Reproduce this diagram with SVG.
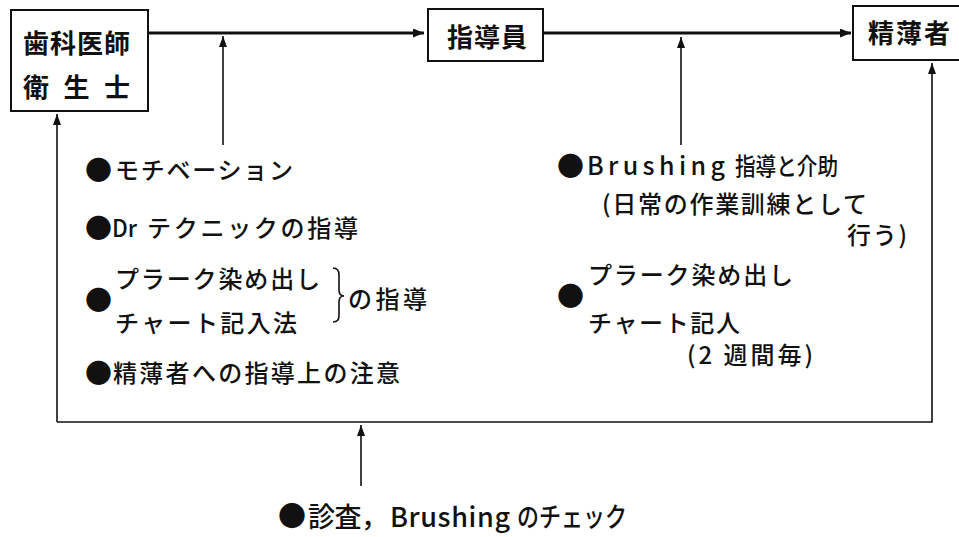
<svg xmlns="http://www.w3.org/2000/svg" width="959" height="537" viewBox="0 0 959 537">
<style>
  .box { fill: #fff; stroke: #111; stroke-width: 2; }
  .bt { font-family: "Noto Sans CJK JP", "Noto Sans", sans-serif; font-size: 26px; font-weight: bold; fill: #111; dominant-baseline: central; }
  .it { font-family: "Noto Sans CJK JP", "Noto Sans", sans-serif; font-size: 24px; font-weight: 500; fill: #111; dominant-baseline: central; }
  .dot { font-family: "Noto Sans CJK JP", "Noto Sans", sans-serif; font-size: 27px; fill: #111; dominant-baseline: central; }
  .big { font-family: "Noto Sans CJK JP", "Noto Sans", sans-serif; font-size: 27px; font-weight: 500; fill: #111; dominant-baseline: central; }
  .thick { fill: none; stroke: #111; stroke-width: 3.2; }
  .thin { fill: none; stroke: #111; stroke-width: 1.6; }
</style>
<defs>
  <marker id="ah" markerUnits="userSpaceOnUse" markerWidth="12" markerHeight="10" refX="11" refY="4.5" orient="auto">
    <path d="M0,0 L11,4.5 L0,9 z" fill="#111"/>
  </marker>
  <marker id="ahs" markerUnits="userSpaceOnUse" markerWidth="12" markerHeight="10" refX="11" refY="4" orient="auto">
    <path d="M0,0 L11,4 L0,8 z" fill="#111"/>
  </marker>
</defs>
<rect width="959" height="537" fill="#fff"/>

<g id="connectors">
  <path class="thick" d="M148,33 L424,33" marker-end="url(#ah)"/>
  <path class="thick" d="M544,33 L851,33" marker-end="url(#ah)"/>
  <path class="thin" d="M223,145 L223,36" marker-end="url(#ahs)"/>
  <path class="thin" d="M681,145 L681,37" marker-end="url(#ahs)"/>
  <path class="thin" d="M57,422 L57,114" marker-end="url(#ahs)"/>
  <path class="thin" d="M57,422 L932,422 L932,63" marker-end="url(#ahs)"/>
  <path class="thin" d="M361,486 L361,425" marker-end="url(#ahs)"/>
</g>

<g id="node-dentist">
  <rect class="box" x="11" y="10" width="137" height="101"/>
  <text class="bt" x="23" y="41" textLength="107" lengthAdjust="spacing">歯科医師</text>
  <text class="bt" x="23" y="85" textLength="107" lengthAdjust="spacing">衛 生 士</text>
</g>

<g id="node-instructor">
  <rect class="box" x="428" y="9" width="115" height="52"/>
  <text class="bt" x="447" y="35" textLength="80" lengthAdjust="spacing">指導員</text>
</g>

<g id="node-patient">
  <rect class="box" x="853" y="6" width="110" height="54"/>
  <text class="bt" x="868" y="31" textLength="82" lengthAdjust="spacing">精薄者</text>
</g>

<g id="left-items">
  <text class="dot" x="85" y="168">●</text>
  <text class="it" x="115" y="168" textLength="178" lengthAdjust="spacing">モチベーション</text>
  <text class="dot" x="85" y="226">●</text>
  <text class="it" x="112" y="226" textLength="25" lengthAdjust="spacingAndGlyphs">Dr</text>
  <text class="it" x="147" y="226" textLength="211" lengthAdjust="spacing">テクニックの指導</text>
  <text class="dot" x="85" y="298">●</text>
  <text class="it" x="115" y="277" textLength="205" lengthAdjust="spacing">プラーク染め出し</text>
  <text class="it" x="115" y="321" textLength="182" lengthAdjust="spacing">チャート記入法</text>
  <path class="thin" d="M333,268 Q339,268 339,275 L339,290 Q339,296 344,296 Q339,296 339,302 L339,316 Q339,322 333,322" stroke-width="1.2"/>
  <text class="it" x="348" y="297" textLength="79" lengthAdjust="spacing">の指導</text>
  <text class="dot" x="85" y="371">●</text>
  <text class="it" x="113" y="371" textLength="287" lengthAdjust="spacing">精薄者への指導上の注意</text>
</g>

<g id="right-items">
  <text class="dot" x="557" y="164">●</text>
  <text class="it" x="587" y="164" textLength="138" lengthAdjust="spacing" style="font-size:25px">Brushing</text>
  <text class="it" x="735" y="164" textLength="103" lengthAdjust="spacingAndGlyphs">指導と介助</text>
  <text class="it" x="602" y="202" textLength="265" lengthAdjust="spacing">(日常の作業訓練として</text>
  <text class="it" x="847" y="233" textLength="60" lengthAdjust="spacing">行う)</text>
  <text class="dot" x="557" y="294">●</text>
  <text class="it" x="588" y="273" textLength="205" lengthAdjust="spacing">プラーク染め出し</text>
  <text class="it" x="588" y="321" textLength="152" lengthAdjust="spacing">チャート記人</text>
  <text class="it" x="687" y="353" textLength="126" lengthAdjust="spacing">(2 週間毎)</text>
</g>

<g id="bottom-item">
  <text class="big" x="278" y="515" style="font-size:28px">●</text>
  <text class="big" x="308" y="515" textLength="80" lengthAdjust="spacing">診査，</text>
  <text class="big" x="390" y="515" textLength="120" lengthAdjust="spacing">Brushing</text>
  <text class="big" x="517" y="515" textLength="110" lengthAdjust="spacingAndGlyphs">のチェック</text>
</g>
</svg>
